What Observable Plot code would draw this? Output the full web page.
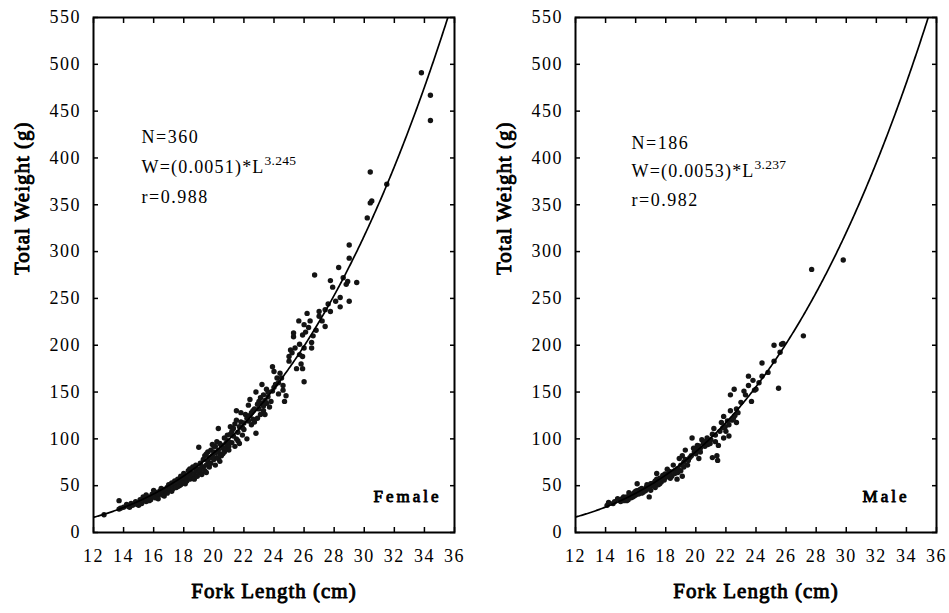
<!DOCTYPE html>
<html>
<head>
<meta charset="utf-8">
<script src="https://cdn.jsdelivr.net/npm/d3@7"></script>
<script src="https://cdn.jsdelivr.net/npm/@observablehq/plot@0.6"></script>
<style>
html, body { margin: 0; padding: 0; background: #fff; }
#wrap { display: flex; width: 949px; height: 613px; overflow: hidden; }
g[aria-label$="tick label"] text { letter-spacing: 1.5px; }
</style>
</head>
<body>
<div id="wrap"></div>
<script>
const xTicks = [12, 14, 16, 18, 20, 22, 24, 26, 28, 30, 32, 34, 36];
const yTicks = [0, 50, 100, 150, 200, 250, 300, 350, 400, 450, 500, 550];
const panelNames = ["Female", "Male"];
const sampleSizes = ["N=360", "N=186"];
const fitA = [0.0051, 0.0053];
const fitB = [3.245, 3.237];
const fitR = ["r=0.988", "r=0.982"];

// female: [fork length (cm), total weight (g)]
const femalePoints = [
[12.7,19],[13.7,25],[13.7,34],[13.8,26],[14.0,27],[14.2,30],[14.3,28],[14.4,27],[14.5,31],[14.6,29],[14.8,33],[14.9,30],
[15.0,32],[15.0,29],[15.1,35],[15.2,31],[15.3,34],[15.3,38],[15.4,37],[15.5,33],[15.5,40],[15.6,36],[15.7,38],[15.7,34],[15.8,35],
[15.9,41],[16.0,39],[16.0,45],[16.1,37],[16.1,43],[16.2,42],[16.3,40],[16.3,36],[16.4,44],[16.5,41],[16.5,47],[16.6,43],[16.6,40],
[16.7,39],[16.7,46],[16.8,44],[16.9,48],[16.9,42],[17.0,45],[17.0,51],[17.1,49],[17.1,46],[17.2,53],[17.2,44],[17.3,47],[17.3,50],
[17.4,55],[17.4,51],[17.5,52],[17.5,48],[17.6,49],[17.6,57],[17.7,54],[17.7,50],[17.8,51],[17.8,60],[17.9,56],[17.9,53],[18.0,53],[18.0,63],
[18.1,58],[18.1,52],[18.2,55],[18.2,60],[18.3,66],[18.3,61],[18.4,68],[18.4,57],[18.5,59],[18.5,64],[18.6,70],[18.6,61],[18.7,62],[18.7,57],
[18.8,66],[18.8,72],[18.9,60],[18.9,67],[19.0,91],[19.0,68],[19.0,64],[19.1,74],[19.1,66],[19.2,70],[19.2,62],[19.3,78],[19.3,70],
[19.4,66],[19.4,82],[19.5,72],[19.5,84],[19.5,64],[19.6,76],[19.6,86],[19.7,70],[19.7,80],[19.8,88],[19.8,74],[19.8,80],[19.9,94],
[19.9,82],[20.0,78],[20.0,86],[20.0,92],[20.1,92],[20.1,72],[20.1,85],[20.2,80],[20.2,97],[20.3,88],[20.3,111],[20.3,79],[20.4,84],
[20.4,76],[20.4,95],[20.5,93],[20.5,82],[20.6,90],[20.6,84],[20.7,86],[20.7,101],[20.8,95],[20.8,90],[20.9,98],[20.9,104],[21.0,92],[21.0,88],[21.0,97],
[21.1,105],[21.1,113],[21.2,96],[21.2,108],[21.3,103],[21.3,111],[21.4,92],[21.4,116],[21.5,120],[21.5,130],[21.5,100],[21.6,107],[21.6,98],
[21.7,113],[21.7,95],[21.8,118],[21.8,128],[21.9,104],[21.9,112],[22.0,117],[22.0,110],[22.1,126],[22.2,100],[22.2,122],[22.3,136],[22.3,119],
[22.4,142],[22.4,125],[22.5,115],[22.5,128],[22.6,130],[22.6,121],[22.7,118],[22.7,132],[22.8,106],[22.8,150],[22.9,122],[22.9,137],[23.0,132],
[23.0,140],[23.1,126],[23.1,144],[23.2,138],[23.2,158],[23.3,147],[23.3,130],[23.3,135],[23.4,141],[23.4,126],[23.5,153],[23.5,138],
[23.6,145],[23.6,150],[23.7,134],[23.8,140],[23.9,151],[24.0,155],[24.0,172],[23.9,177],[24.1,158],[24.2,165],[24.3,160],[24.3,148],[24.4,170],
[24.5,165],[24.6,157],[24.6,152],[24.8,146],[24.7,140],[25.0,188],[25.0,183],[25.1,195],[25.2,192],[25.3,213],[25.3,209],[25.4,197],[25.5,175],[25.65,226],
[25.7,201],[25.7,190],[25.8,180],[25.9,188],[25.9,175],[25.9,211],[26.0,197],[26.0,161],[26.0,222],[26.1,214],[26.2,234],[26.3,219],[26.4,226],
[26.5,203],[26.5,197],[26.6,210],[26.7,275],[26.8,216],[27.0,236],[27.0,231],[27.2,226],[27.4,238],[27.4,220],[27.6,244],[27.75,269],[27.75,236],
[27.9,262],[28.1,247],[28.3,283],[28.4,251],[28.4,241],[28.6,272],[28.8,265],[28.9,268],[29.0,307],[29.0,293],[29.0,247],[29.5,267],
[30.2,336],[30.4,352],[30.5,354],[30.4,385],[31.5,372],[33.8,491],[34.4,467],[34.4,440]
];

// male: [fork length (cm), total weight (g)]
const malePoints = [
[14.1,29],[14.2,32],[14.5,31],[14.6,33],[14.8,36],[15.0,33],[15.1,36],[15.2,34],[15.2,38],[15.3,36],[15.4,38],[15.4,34],[15.5,35],
[15.55,42.5],[15.65,40],[15.7,37],[15.8,41],[15.8,38],[15.9,42.5],[15.9,39],[16.0,44],[16.0,40],[16.1,52],[16.1,44.6],[16.2,41],[16.2,45],
[16.3,46],[16.4,47],[16.4,42],[16.5,43],[16.6,45],[16.65,44.6],[16.7,48],[16.75,51],[16.8,47],[16.9,38],[16.9,50],[17.0,49],
[17.0,45],[17.0,52],[17.1,52],[17.2,53],[17.2,50],[17.3,48],[17.3,55],[17.4,63],[17.4,57],[17.5,51],[17.5,55],[17.6,58],[17.6,52],[17.7,54],
[17.8,57],[17.8,61],[17.9,56],[17.95,62.5],[18.0,59],[18.1,67.5],[18.1,61],[18.2,63],[18.3,65],[18.3,58],[18.4,60],[18.5,72],[18.6,66],[18.6,63],
[18.75,57],[18.8,68],[18.8,64],[18.9,79],[19.0,72],[19.0,66],[19.1,82],[19.1,60],[19.2,75],[19.2,70],[19.3,88],[19.3,78],[19.45,72],[19.5,77],
[19.6,80],[19.7,82],[19.75,101],[19.85,90],[19.9,86],[20.0,84],[20.1,88],[20.1,93],[20.2,92.5],[20.2,79],[20.3,86],[20.3,90],[20.4,99],[20.5,95],
[20.6,92],[20.6,97],[20.75,101],[20.8,94],[20.9,98],[20.95,95],[21.0,99],[21.1,105],[21.1,80],[21.2,111],[21.3,97],[21.3,104],[21.4,82],[21.45,77],
[21.5,93],[21.6,108],[21.7,117.5],[21.8,112],[21.85,124],[21.85,101],[21.95,113],[22.0,108],[22.1,119],[22.2,115],[22.2,103],[22.3,130],[22.3,147],
[22.4,120],[22.5,122],[22.55,153],[22.6,125],[22.7,132],[22.7,117.5],[22.8,128],[23.0,139],[23.2,151],[23.3,147],[23.5,157],[23.5,167],[23.7,140],
[23.8,162.5],[23.9,152],[24.0,153],[24.2,160],[24.4,181],[24.4,167],[24.8,171],[25.2,200],[25.2,183],[25.5,154],[25.6,192.5],[25.7,201],
[25.8,202],[27.15,210],[27.7,281],[29.8,291]
];

const axisTitles = { x: "Fork Length (cm)", y: "Total Weight (g)" };

function panel(i, points, layout) {
  const a = fitA[i], b = fitB[i];
  const curve = d3.range(12, 36.0001, 0.05).map(L => ({L, W: a * Math.pow(L, b)}));
  const eqText = `W=(${a.toFixed(4)})*L`;
  const reg = {fontFamily: "Liberation Serif", fill: "black"};
  // heavy serif: regular Liberation Serif thickened with a stroke (no bold face installed)
  const bold = {fontFamily: "Liberation Serif", fontWeight: "normal", fill: "black", stroke: "black", strokeWidth: 0.9, strokeLinejoin: "round"};
  const svg = Plot.plot({
    width: layout.width,
    height: 613,
    marginLeft: layout.ml,
    marginRight: layout.mr,
    marginTop: 17,
    marginBottom: 81,
    style: {background: "white", color: "black", fontFamily: "Liberation Serif", overflow: "visible"},
    x: {domain: [12, 36]},
    y: {domain: [0, 550]},
    marks: [
      Plot.axisX(xTicks, {anchor: "bottom", tickSize: -5, tickFormat: () => "", label: null, strokeWidth: 1.5}),
      Plot.axisX(xTicks, {anchor: "top", tickSize: -5, tickFormat: () => "", label: null, strokeWidth: 1.5}),
      Plot.axisY(yTicks, {anchor: "left", tickSize: -5, tickFormat: () => "", label: null, strokeWidth: 1.5}),
      Plot.axisY(yTicks, {anchor: "right", tickSize: -5, tickFormat: () => "", label: null, strokeWidth: 1.5}),
      Plot.axisX(xTicks, {anchor: "bottom", tickSize: 0, tickPadding: 17, label: null, fontSize: 18, ...bold}),
      Plot.axisY(yTicks, {anchor: "left", tickSize: 0, tickPadding: 12.5, label: null, fontSize: 18, ...bold}),
      Plot.frame({stroke: "black", strokeWidth: 2}),
      Plot.dot(points, {x: d => d[0], y: d => d[1], r: 2.7, fill: "#141414", stroke: "none"}),
      Plot.line(curve, {x: "L", y: "W", stroke: "black", strokeWidth: 1.7, clip: true}),
      Plot.text([sampleSizes[i]], {frameAnchor: "top-left", textAnchor: "start", dx: layout.tdx, dy: layout.tdy[0], fontSize: 18, ...reg}),
      Plot.text([eqText], {frameAnchor: "top-left", textAnchor: "start", dx: layout.tdx, dy: layout.tdy[1], fontSize: 18, ...reg}),
      Plot.text([fitR[i]], {frameAnchor: "top-left", textAnchor: "start", dx: layout.tdx, dy: layout.tdy[2], fontSize: 18, ...reg}),
      Plot.text([panelNames[i]], {frameAnchor: "bottom-right", textAnchor: "end", dx: layout.ndx, dy: -31, fontSize: 17, ...bold}),
      Plot.text([axisTitles.x], {frameAnchor: "bottom", dy: 65, fontSize: 21, ...bold}),
      Plot.text([axisTitles.y], {frameAnchor: "left", dx: -71, rotate: -90, fontSize: 21, ...bold})
    ]
  });
  const s = d3.select(svg);
  s.selectAll("text").each(function() {
    const t = this.textContent;
    if (t === eqText) {
      this.style.letterSpacing = "1.2px";
      d3.select(this).append("tspan").attr("dy", "-8").attr("font-size", 13.5).style("letter-spacing", "0.3px").text(b.toFixed(3));
    } else if (t === sampleSizes[i] || t === fitR[i]) {
      this.style.letterSpacing = "1.5px";
    } else if (t === panelNames[i]) {
      this.style.letterSpacing = "3px";
    } else if (t === axisTitles.x || t === axisTitles.y) {
      this.style.letterSpacing = "1px";
    }
  });
  return svg;
}

const wrap = document.getElementById("wrap");
wrap.appendChild(panel(0, femalePoints, {width: 474, ml: 93, mr: 20, tdx: 48, tdy: [113, 143, 173], ndx: -13}));
wrap.appendChild(panel(1, malePoints, {width: 475, ml: 101, mr: 13, tdx: 56, tdy: [119, 147, 176], ndx: -27}));
</script>
</body>
</html>
